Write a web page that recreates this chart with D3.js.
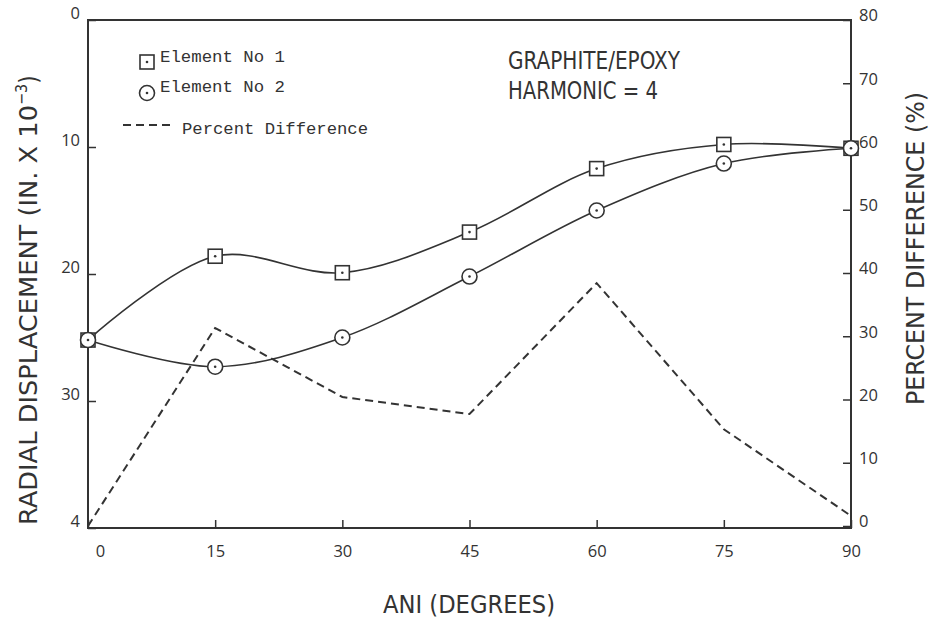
<!DOCTYPE html>
<html>
<head>
<meta charset="utf-8">
<script src="https://cdn.jsdelivr.net/npm/d3@7"></script>
<style>
  body { margin: 0; background: #fff; }
  svg { display: block; }
</style>
</head>
<body>
<div class="canvas"></div>
<script>
// data
const angles = [0, 15, 30, 45, 60, 75, 90];
const element1 = [25.2, 18.6, 19.9, 16.7, 11.7, 9.8, 10.1];
const element2 = [25.2, 27.3, 25.0, 20.2, 15.0, 11.3, 10.1];
const percentDiff = [0, 31.3, 20.4, 17.7, 38.4, 15.3, 1.6];
const xTicks = [0, 15, 30, 45, 60, 75, 90];
const leftTicks = [0, 10, 20, 30, 40];
const leftTickLabels = ['0', '10', '20', '30', '4'];
const rightTicks = [0, 10, 20, 30, 40, 50, 60, 70, 80];

const ink = '#333';
const condensed = '"DejaVu Sans Condensed", "Liberation Sans Narrow", sans-serif';
const mono = '"Liberation Mono", "DejaVu Sans Mono", monospace';

const svg = d3.select('.canvas').append('svg')
    .attr('width', 933)
    .attr('height', 620);

const x = d3.scaleLinear().domain([0, 90]).range([88, 851]);
const yL = d3.scaleLinear().domain([0, 40]).range([20, 528]);
const yR = d3.scaleLinear().domain([0, 80]).range([526, 20]);

// frame
svg.append('rect')
    .attr('x', x(0)).attr('y', yL(0))
    .attr('width', x(90) - x(0)).attr('height', yL(40) - yL(0))
    .attr('fill', 'none').attr('stroke', ink).attr('stroke-width', 2);

// axes (ticks point inward)
const bottom = svg.append('g')
    .attr('transform', `translate(0,${yL(40)})`)
    .call(d3.axisBottom(x).tickValues(xTicks).tickSizeInner(-8).tickSizeOuter(0).tickPadding(17));
bottom.selectAll('text').attr('dx', (d) => d === 0 ? 12 : 0);

const left = svg.append('g')
    .attr('transform', `translate(${x(0)},0)`)
    .call(d3.axisLeft(yL).tickValues(leftTicks).tickFormat((d, i) => leftTickLabels[i]).tickSizeInner(-8).tickSizeOuter(0).tickPadding(8));
left.selectAll('text').attr('dy', '-0.1em');

const right = svg.append('g')
    .attr('transform', `translate(${x(90)},0)`)
    .call(d3.axisRight(yR).tickValues(rightTicks).tickSizeInner(-8).tickSizeOuter(0).tickPadding(8));
right.selectAll('text').attr('dy', '0.05em');

[bottom, left, right].forEach((g) => {
  g.select('.domain').remove();
  g.selectAll('line').attr('stroke', ink).attr('stroke-width', 1.5);
  g.selectAll('text')
      .attr('fill', ink)
      .style('font-family', '"Open Sans", sans-serif')
      .style('font-size', '16.5px');
});

// curves
const line1 = d3.line()
    .x((d, i) => x(angles[i]))
    .y((d) => yL(d))
    .curve(d3.curveCatmullRom.alpha(0.5));

svg.append('path')
    .attr('d', line1(element1))
    .attr('fill', 'none').attr('stroke', ink).attr('stroke-width', 1.6);
svg.append('path')
    .attr('d', line1(element2))
    .attr('fill', 'none').attr('stroke', ink).attr('stroke-width', 1.6);

const lineP = d3.line()
    .x((d, i) => x(angles[i]))
    .y((d) => yR(d));
svg.append('path')
    .attr('d', lineP(percentDiff))
    .attr('fill', 'none').attr('stroke', ink).attr('stroke-width', 2)
    .attr('stroke-dasharray', '8,5');

// markers
const sq = svg.append('g').selectAll('g')
    .data(element1)
    .join('g')
    .attr('transform', (d, i) => `translate(${x(angles[i])},${yL(d)})`);
sq.append('rect')
    .attr('x', -7).attr('y', -7).attr('width', 14).attr('height', 14)
    .attr('fill', '#fff').attr('stroke', ink).attr('stroke-width', 1.6);
sq.append('circle').attr('r', 1.3).attr('fill', ink);

const ci = svg.append('g').selectAll('g')
    .data(element2)
    .join('g')
    .attr('transform', (d, i) => `translate(${x(angles[i])},${yL(d)})`);
ci.append('circle')
    .attr('r', 7.5)
    .attr('fill', '#fff').attr('stroke', ink).attr('stroke-width', 1.6);
ci.append('circle').attr('r', 1.3).attr('fill', ink);

// legend
const leg = svg.append('g');
leg.append('rect')
    .attr('x', 140).attr('y', 55).attr('width', 14).attr('height', 14)
    .attr('fill', '#fff').attr('stroke', ink).attr('stroke-width', 1.6);
leg.append('circle').attr('cx', 147).attr('cy', 62).attr('r', 1.3).attr('fill', ink);
leg.append('circle').attr('cx', 147).attr('cy', 93).attr('r', 7.5)
    .attr('fill', '#fff').attr('stroke', ink).attr('stroke-width', 1.6);
leg.append('circle').attr('cx', 147).attr('cy', 93).attr('r', 1.3).attr('fill', ink);
leg.append('line')
    .attr('x1', 123).attr('x2', 172).attr('y1', 125).attr('y2', 125)
    .attr('stroke', ink).attr('stroke-width', 2).attr('stroke-dasharray', '8,5');

const legendText = [
  { t: 'Element No 1', x: 160, y: 62, w: 125 },
  { t: 'Element No 2', x: 160, y: 92, w: 125 },
  { t: 'Percent Difference', x: 182, y: 134, w: 186 }
];
leg.selectAll('text')
    .data(legendText)
    .join('text')
    .attr('x', (d) => d.x).attr('y', (d) => d.y)
    .attr('textLength', (d) => d.w).attr('lengthAdjust', 'spacingAndGlyphs')
    .attr('fill', ink)
    .style('font-family', mono).style('font-size', '16px')
    .text((d) => d.t);

// annotation
svg.append('text')
    .attr('x', 508).attr('y', 69)
    .attr('textLength', 172).attr('lengthAdjust', 'spacingAndGlyphs')
    .attr('fill', ink)
    .style('font-family', condensed).style('font-size', '24px')
    .text('GRAPHITE/EPOXY');
svg.append('text')
    .attr('x', 508).attr('y', 99)
    .attr('textLength', 150).attr('lengthAdjust', 'spacingAndGlyphs')
    .attr('fill', ink)
    .style('font-family', condensed).style('font-size', '24px')
    .text('HARMONIC = 4');

// axis titles
svg.append('text')
    .attr('x', 469).attr('y', 613)
    .attr('text-anchor', 'middle')
    .attr('textLength', 172).attr('lengthAdjust', 'spacingAndGlyphs')
    .attr('fill', ink)
    .style('font-family', condensed).style('font-size', '24px')
    .text('ANI (DEGREES)');

const yTitle = svg.append('text')
    .attr('transform', 'translate(37,525) rotate(-90)')
    .attr('fill', ink)
    .style('font-family', condensed).style('font-size', '24px');
yTitle.append('tspan')
    .attr('textLength', 420).attr('lengthAdjust', 'spacingAndGlyphs')
    .text('RADIAL DISPLACEMENT (IN. X 10');
yTitle.append('tspan').attr('dy', -10).style('font-size', '16px').text('−3');
yTitle.append('tspan').attr('dy', 10).text(')');

svg.append('text')
    .attr('transform', 'translate(924,405) rotate(-90)')
    .attr('textLength', 313).attr('lengthAdjust', 'spacingAndGlyphs')
    .attr('fill', ink)
    .style('font-family', condensed).style('font-size', '24px')
    .text('PERCENT DIFFERENCE (%)');
</script>
</body>
</html>
